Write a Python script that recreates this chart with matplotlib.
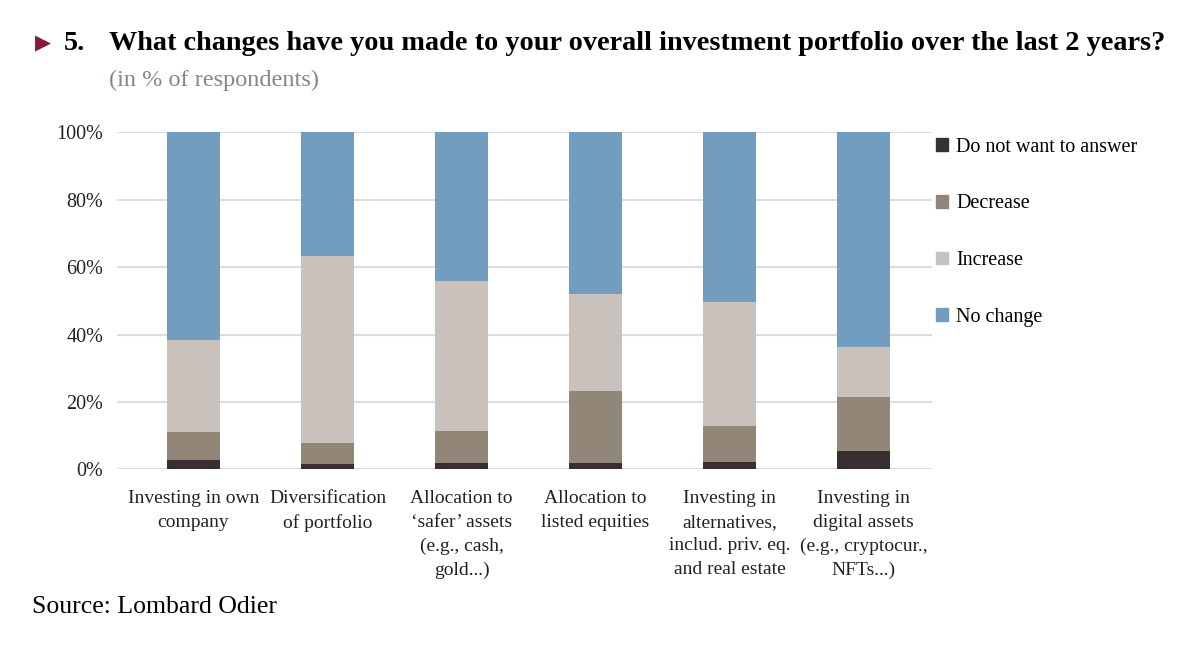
import numpy as np
import matplotlib.pyplot as plt
from matplotlib.patches import Patch

plt.rcParams['font.family'] = ['Liberation Serif', 'DejaVu Serif']

# categories and stacked shares (in % of respondents)
categories = [
    'Investing in own\ncompany',
    'Diversification\nof portfolio',
    'Allocation to\n\u2018safer\u2019 assets\n(e.g., cash,\ngold...)',
    'Allocation to\nlisted equities',
    'Investing in\nalternatives,\ninclud. priv. eq.\nand real estate',
    'Investing in\ndigital assets\n(e.g., cryptocur.,\nNFTs...)',
]
no_answer = [2.8, 1.6, 2.0, 1.8, 2.3, 5.6]
decrease = [8.2, 6.2, 9.3, 21.5, 10.6, 16.0]
increase = [27.4, 55.6, 44.6, 28.7, 36.7, 14.7]
no_change = [61.6, 36.6, 44.1, 48.0, 50.4, 63.7]

series = ['Do not want to answer', 'Decrease', 'Increase', 'No change']
colors = ['#3a2f30', '#928679', '#c9c2bc', '#729dbf']
y_ticks = [0, 20, 40, 60, 80, 100]

fig = plt.figure(figsize=(12, 6.5), dpi=100)
ax = fig.add_axes([0.0975, 0.2777, 0.6792, 0.5185])

x = np.arange(len(categories))
bottom = np.zeros(len(categories))
for vals, col, name in zip([no_answer, decrease, increase, no_change], colors, series):
    ax.bar(x, vals, width=0.4, bottom=bottom, color=col, label=name, zorder=3)
    bottom += np.array(vals)

ax.set_xlim(-0.57, 5.51)
ax.set_ylim(0, 100)
ax.set_yticks(y_ticks)
ax.set_yticklabels([f'{t}%' for t in y_ticks], fontsize=14.5, color='#222222')
ax.yaxis.grid(True, color='#dddddd', linewidth=1.5, zorder=0)
ax.tick_params(axis='y', length=0, pad=10)
ax.tick_params(axis='x', length=0, pad=15)
ax.set_xticks(x)
ax.set_xticklabels(categories, fontsize=14, color='#222222', linespacing=1.5)
for s in ax.spines.values():
    s.set_visible(False)

handles = [Patch(color=c) for c in colors]
leg = ax.legend(handles[::-1], series[::-1], loc='upper left', bbox_to_anchor=(0.995, 1.008),
                frameon=False, fontsize=14.5, labelspacing=1.87, reverse=True,
                handlelength=0.6, handleheight=0.6, handletextpad=0.4, borderaxespad=0)

# title block
fig.text(0.029, 0.933, '\u25B6', fontsize=15, color='#8b1a3a', va='center', ha='left',
         family=['DejaVu Sans'])
fig.text(0.053, 0.933, '5.', fontsize=20.3, fontweight='bold', va='center', ha='left')
fig.text(0.091, 0.933, 'What changes have you made to your overall investment portfolio over the last 2 years?',
         fontsize=20.3, fontweight='bold', va='center', ha='left')
fig.text(0.091, 0.877, '(in % of respondents)', fontsize=17.5, color='#8a8580', va='center', ha='left')
fig.text(0.027, 0.066, 'Source: Lombard Odier', fontsize=18.5, va='center', ha='left')

fig.savefig('out.png', dpi=100)
